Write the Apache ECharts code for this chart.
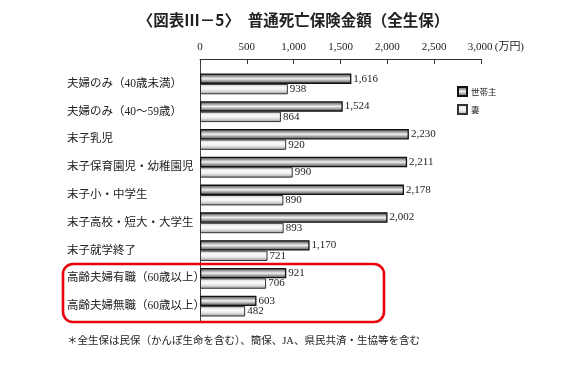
<!DOCTYPE html>
<html><head><meta charset="utf-8">
<script src="https://cdn.jsdelivr.net/npm/echarts@6/dist/echarts.min.js"></script>
<style>html,body{margin:0;padding:0;background:#fff}#c{width:587px;height:370px}</style>
</head><body><div id="c"></div>
<script>
const categories = [
  '夫婦のみ（40歳未満）',
  '夫婦のみ（40～59歳）',
  '末子乳児',
  '末子保育園児・幼稚園児',
  '末子小・中学生',
  '末子高校・短大・大学生',
  '末子就学終了',
  '高齢夫婦有職（60歳以上）',
  '高齢夫婦無職（60歳以上）'
];
const headValues = [1616, 1524, 2230, 2211, 2178, 2002, 1170, 921, 603];
const wifeValues = [938, 864, 920, 990, 890, 893, 721, 706, 482];
const seriesNames = ['世帯主', '妻'];
const xTicks = [0, 500, 1000, 1500, 2000, 2500, 3000];
const unitText = '(万円)';

const FONT = '"Liberation Serif", "Noto Sans CJK JP", serif';
const GL = 200, GT = 70, GW = 281, GH = 250, OFF = 11;
const fmt = v => v.toLocaleString('en-US');
const UW = 30;

const chart = echarts.init(document.getElementById('c'), null, {renderer: 'canvas'});
const headGrad = new echarts.graphic.LinearGradient(0, 0, 0, 1, [
  {offset: 0, color: '#3a3a3a'}, {offset: 0.3, color: '#a8a8a8'},
  {offset: 0.5, color: '#f2f2f2'}, {offset: 0.72, color: '#a0a0a0'}, {offset: 1, color: '#4a4a4a'}
]);
const wifeGrad = new echarts.graphic.LinearGradient(0, 0, 0, 1, [
  {offset: 0, color: '#c8c8c8'}, {offset: 0.35, color: '#fbfbfb'},
  {offset: 0.6, color: '#ededed'}, {offset: 1, color: '#9a9a9a'}
]);

chart.setOption({
  animation: false,
  backgroundColor: '#fff',
  title: {
    text: '〈図表Ⅲ－5〉　普通死亡保険金額（全生保）',
    left: 'center', top: 7,
    textStyle: {fontFamily: '"Noto Sans CJK JP", sans-serif', fontSize: 15.5, fontWeight: 'bold', color: '#222'}
  },
  legend: {
    data: seriesNames,
    orient: 'vertical', left: 452, top: 81,
    icon: 'rect',
    itemWidth: 9, itemHeight: 9, itemGap: 7,
    textStyle: {fontFamily: '"Noto Sans CJK JP", sans-serif', fontSize: 8.5, color: '#222', padding: [0, 0, 0, -1]}
  },
  grid: {left: GL, top: GT, width: GW, height: GH},
  xAxis: {
    type: 'value', position: 'top', offset: OFF,
    min: 0, max: 3000, interval: 500,
    axisLine: {show: true, lineStyle: {color: '#333', width: 1}},
    axisTick: {show: true, inside: true, length: 5, lineStyle: {color: '#333'}},
    axisLabel: {fontFamily: FONT, fontSize: 11, color: '#222', margin: 6,
      showMaxLabel: true,
      formatter: v => {
        if (!xTicks.includes(v)) return '';
        if (v === xTicks[xTicks.length - 1]) return '{s|}' + fmt(v) + '{u|' + unitText + '}';
        return fmt(v);
      },
      rich: {
        s: {width: UW},
        u: {width: UW, align: 'left', fontFamily: FONT, fontSize: 11, color: '#222', padding: [0, 0, 0, 2]}
      }
    },
    splitLine: {show: false}
  },
  yAxis: {
    type: 'category', inverse: true, data: categories,
    axisLine: {show: true, lineStyle: {color: '#444', width: 1}},
    axisTick: {show: false},
    axisLabel: {fontFamily: FONT, fontSize: 11.5, color: '#222', align: 'left', margin: 133}
  },
  series: [
    {
      name: seriesNames[0], type: 'bar', data: headValues,
      barGap: '0%', barCategoryGap: '25%',
      itemStyle: {color: headGrad, borderColor: '#111', borderWidth: 1.3},
      label: {show: true, position: 'right', distance: 2, fontFamily: FONT, fontSize: 11, color: '#222',
        formatter: p => fmt(p.value)}
    },
    {
      name: seriesNames[1], type: 'bar', data: wifeValues,
      itemStyle: {color: wifeGrad, borderColor: '#333', borderWidth: 1},
      label: {show: true, position: 'right', distance: 2, fontFamily: FONT, fontSize: 11, color: '#222',
        formatter: p => fmt(p.value)}
    }
  ],
  graphic: [
    {type: 'line', silent: true, shape: {x1: GL + 0.5, y1: GT - OFF, x2: GL + 0.5, y2: GT + 1},
      style: {stroke: '#444', lineWidth: 1}},
    {type: 'line', silent: true, shape: {x1: GL + 0.5, y1: GT + GH, x2: GL + 0.5, y2: GT + GH + 2},
      style: {stroke: '#444', lineWidth: 1}},
    {type: 'rect', silent: true, shape: {x: 63, y: 264, width: 321, height: 58, r: 10},
      style: {fill: 'none', stroke: '#e8000b', lineWidth: 2.6}, z: 10},
    {type: 'text', left: 67, top: 336,
      style: {text: '＊全生保は民保（かんぽ生命を含む）、簡保、JA、県民共済・生協等を含む',
        font: '10.5px "Liberation Serif", "Noto Sans CJK JP", serif', fill: '#222'}}
  ]
});
</script>
</body></html>
